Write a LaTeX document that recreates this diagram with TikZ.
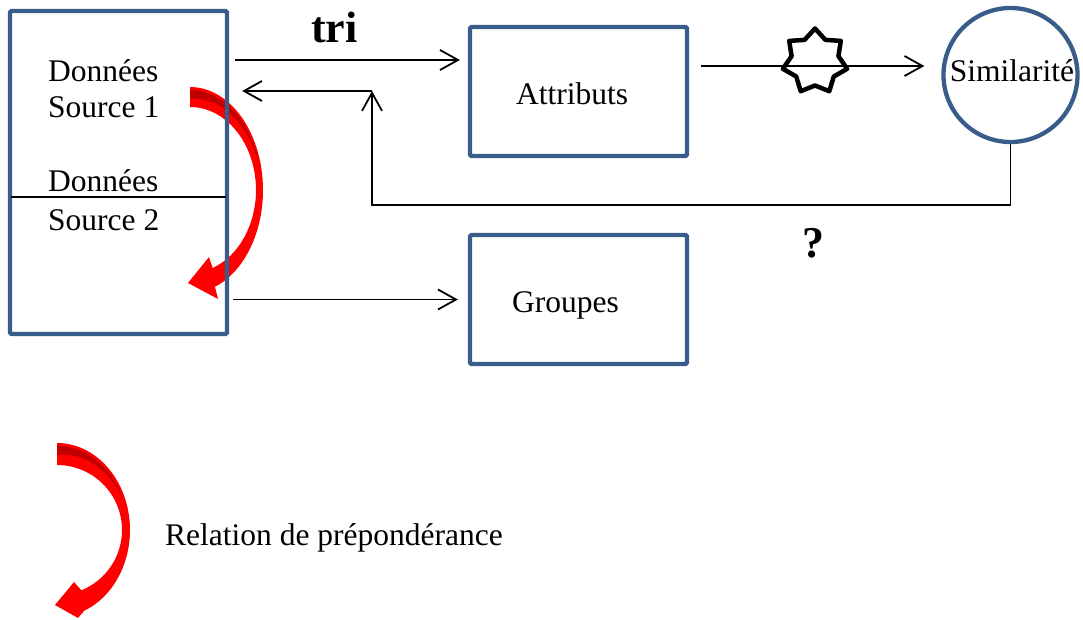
\documentclass[tikz,border=0pt]{standalone}
\usepackage{fontspec}
\setmainfont{Liberation Serif}
\usetikzlibrary{arrows.meta}
\definecolor{boxblue}{RGB}{56,93,138}
\definecolor{deepred}{RGB}{192,0,0}
\begin{document}
\begin{tikzpicture}[x=1pt,y=-1pt,
  box/.style={draw=boxblue,line width=4.3pt,rounded corners=1.5pt,minimum width=217pt,minimum height=129pt,inner sep=0pt},
  simcircle/.style={draw=boxblue,line width=4.3pt,circle,minimum size=134pt,inner sep=0pt},
  txt/.style={anchor=base west,inner sep=0pt,font=\fontsize{31.5}{36}\selectfont},
  bigtxt/.style={anchor=base west,inner sep=0pt,font=\fontsize{44}{50}\selectfont\bfseries},
  conn/.style={draw=black,line width=1.8pt},
  arr/.style={conn,-{Straight Barb[length=18pt,width=20pt,line width=1.8pt]}},
  starline/.style={draw=black,line width=4.5pt,line join=round},
]
\useasboundingbox (0,0) rectangle (1083,620);

% red curved arrows (drawn beneath the boxes)
\fill[red] plot[domain=-90:70,samples=60,variable=\t] ({190+73*cos(\t)},{190+103*sin(\t)})
  -- (218,299) -- (188,283) -- (209,257)
  -- plot[domain=70:-90,samples=60,variable=\t] ({190+66*cos(\t)},{190+83*sin(\t)}) -- cycle;
\fill[deepred] plot[domain=-90:-15,samples=40,variable=\t] ({190+71.5*cos(\t)},{190+100*sin(\t)})
  -- plot[domain=-15:-90,samples=40,variable=\t] ({190+(71.5-9*(-15-(\t))/75)*cos(\t)},{190+(100-9*(-15-(\t))/75)*sin(\t)}) -- cycle;

\fill[red] plot[domain=-90:68,samples=60,variable=\t] ({57+73*cos(\t)},{530+87*sin(\t)})
  -- (78,618) -- (55,605) -- (74,582)
  -- plot[domain=68:-90,samples=60,variable=\t] ({57+65*cos(\t)},{530+65*sin(\t)}) -- cycle;
\fill[deepred] plot[domain=-90:-20,samples=40,variable=\t] ({57+71*cos(\t)},{530+84*sin(\t)})
  -- plot[domain=-20:-90,samples=40,variable=\t] ({57+(71-9*(-20-(\t))/70)*cos(\t)},{530+(84-9*(-20-(\t))/70)*sin(\t)}) -- cycle;

% boxes
\node[box,minimum height=323pt] (src) at (118.5,172.5) {};
\node[box] (attr) at (578.5,91.5) {};
\node[box] (grp) at (578.5,299.5) {};
\node[simcircle] (sim) at (1010.5,75) {};

% texts
\node[txt] (d1) at (48,82) {Données};
\node[txt] (s1) at (48,118) {Source 1};
\node[txt] (d2) at (48,192) {Données};
\node[txt] (s2) at (48,230) {Source 2};
\node[txt] (ta) at (516,105) {Attributs};
\node[txt] (tg) at (512,312) {Groupes};
\node[txt,anchor=base] (ts) at (1012,82) {Similarité};
\node[bigtxt] (tri) at (311,43) {tri};
\node[bigtxt] (q) at (802,257) {?};
\node[txt] (leg) at (165,545) {Relation de prépondérance};

% separator in the source box
\draw[conn,shorten <=3pt,shorten >=3pt] (src.west |- 0,197) -- (src.east |- 0,197);

% connectors
\coordinate (j) at (372,91);
\draw[arr,shorten <=6pt,shorten >=8pt] (src.east |- 0,60) -- (attr.west |- 0,60);
\draw[arr,shorten >=13pt] (j) -- (src.east |- j);
\draw[arr] (sim.south) -- (sim.south |- 0,205) -- (j |- 0,205) -- (j);
\draw[arr,shorten <=4pt,shorten >=10pt] (src.east |- grp) -- (grp.west);
\draw[arr,shorten <=12pt,shorten >=17pt] (attr.east |- 0,66) -- (sim.west |- 0,66);

% seven-pointed star on the connector
\draw[starline] plot[samples at={0,...,13},variable=\k]
  ({815+ifthenelse(mod(\k,2)==0,33,24)*cos(-90+\k*360/14)},{61.5+ifthenelse(mod(\k,2)==0,33,24)*sin(-90+\k*360/14)}) -- cycle;
\end{tikzpicture}
\end{document}
